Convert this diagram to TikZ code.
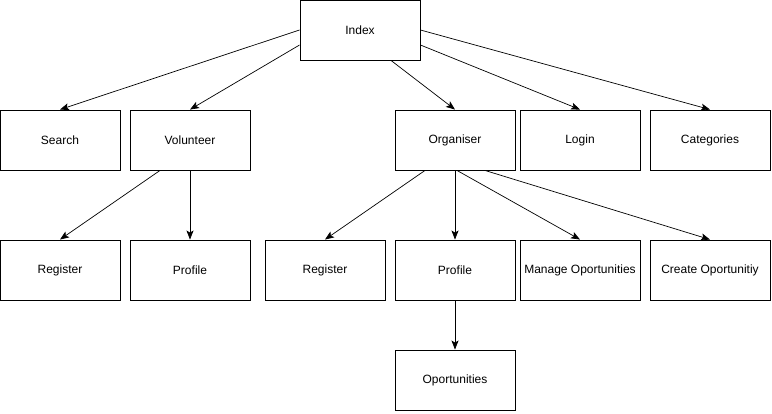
\documentclass[tikz,border=0pt]{standalone}
\usepackage{fontspec}
\setmainfont{Liberation Sans}
\usetikzlibrary{arrows.meta}
\begin{document}
\begin{tikzpicture}[x=1pt,y=-1pt,
  box/.style={draw,line width=0.9pt,minimum width=120pt,minimum height=60pt,inner sep=0pt,font=\fontsize{12}{14}\selectfont},
  conn/.style={line width=0.7pt,-{Stealth[length=9pt,width=7pt,inset=2pt]}}]
\useasboundingbox (0,0) rectangle (772,414);
\node[box] (idx) at (360,30) {Index};
\node[box] (srch) at (60,140) {Search};
\node[box] (vol) at (190,140) {Volunteer};
\node[box] (org) at (455,140) {Organiser};
\node[box] (login) at (580,140) {Login};
\node[box] (cat) at (710,140) {Categories};
\node[box] (reg1) at (60,270) {Register};
\node[box] (prof1) at (190,270) {Profile};
\node[box] (reg2) at (325,270) {Register};
\node[box] (prof2) at (455,270) {Profile};
\node[box] (man) at (580,270) {Manage Oportunities};
\node[box] (cre) at (710,270) {Create Oportunitiy};
\node[box] (opp) at (455,380) {Oportunities};
\draw[conn] (idx.west) -- (srch.north);
\draw[conn] ([yshift=-15pt]idx.west) -- (vol.north);
\draw[conn] ([xshift=31pt]idx.south) -- (org.north);
\draw[conn] ([yshift=-15pt]idx.east) -- (login.north);
\draw[conn] (idx.east) -- (cat.north);
\draw[conn] ([xshift=-30pt]vol.south) -- (reg1.north);
\draw[conn] (vol.south) -- (prof1.north);
\draw[conn] ([xshift=-30pt]org.south) -- (reg2.north);
\draw[conn] (org.south) -- (prof2.north);
\draw[conn] ([xshift=2pt]org.south) -- (man.north);
\draw[conn] ([xshift=30pt]org.south) -- (cre.north);
\draw[conn] (prof2.south) -- (opp.north);
\end{tikzpicture}
\end{document}
